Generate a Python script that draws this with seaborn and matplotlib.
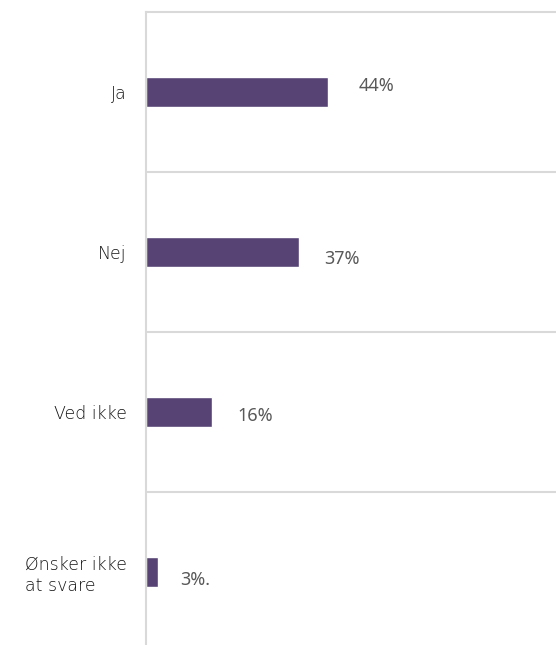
import matplotlib
matplotlib.use("Agg")
import matplotlib.pyplot as plt
import seaborn as sns
import pandas as pd
import numpy as np

# Survey answers and their shares (%)
categories = ["Ja", "Nej", "Ved ikke", "Ønsker ikke\nat svare"]
values = [44, 37, 16, 3]
value_labels = ["44%", "37%", "16%", "3%."]

df = pd.DataFrame({"svar": categories, "andel": values})

sns.set_theme(style="white")
plt.rcParams["font.family"] = ["DejaVu Sans"]

fig = plt.figure(figsize=(5.56, 6.45), dpi=100)
ax = fig.add_axes([146 / 556, 1 - 652 / 645, 1 - 146 / 556, 640 / 645])

sns.barplot(data=df, x="andel", y="svar", orient="h", color="#574475",
            width=0.19, saturation=1, ax=ax)

ax.set_xlim(0, 99)
ax.set_ylim(len(categories) - 0.5, -0.5)

# Band separators between the categories
ax.set_yticks(np.arange(0.5, len(categories)), minor=True)
ax.grid(which="minor", axis="y", color="#d9d9d9", linewidth=1.5)
ax.grid(which="major", visible=False)
ax.set_axisbelow(True)

for side in ["right", "bottom"]:
    ax.spines[side].set_visible(False)
for side in ["left", "top"]:
    ax.spines[side].set_color("#d9d9d9")
    ax.spines[side].set_linewidth(1.5)

ax.set_xticks([])
ax.set_xlabel("")
ax.set_ylabel("")
ax.tick_params(axis="y", which="both", length=0, pad=14)
for lbl in ax.get_yticklabels():
    lbl.set_fontsize(12.5)
    lbl.set_fontweight("light")
    lbl.set_color("#141414")
    lbl.set_multialignment("left")

# Value labels beside each bar
label_dx = [22, 18, 18, 16]
label_dy = [4, -5, -3, -6]
for i, (v, txt) in enumerate(zip(values, value_labels)):
    ax.annotate(txt, xy=(v, i), xytext=(label_dx[i], label_dy[i]),
                textcoords="offset points", ha="left", va="center",
                fontsize=13, color="#595959",
                fontfamily=["Noto Sans", "DejaVu Sans"])

fig.savefig("out.png", dpi=100)
